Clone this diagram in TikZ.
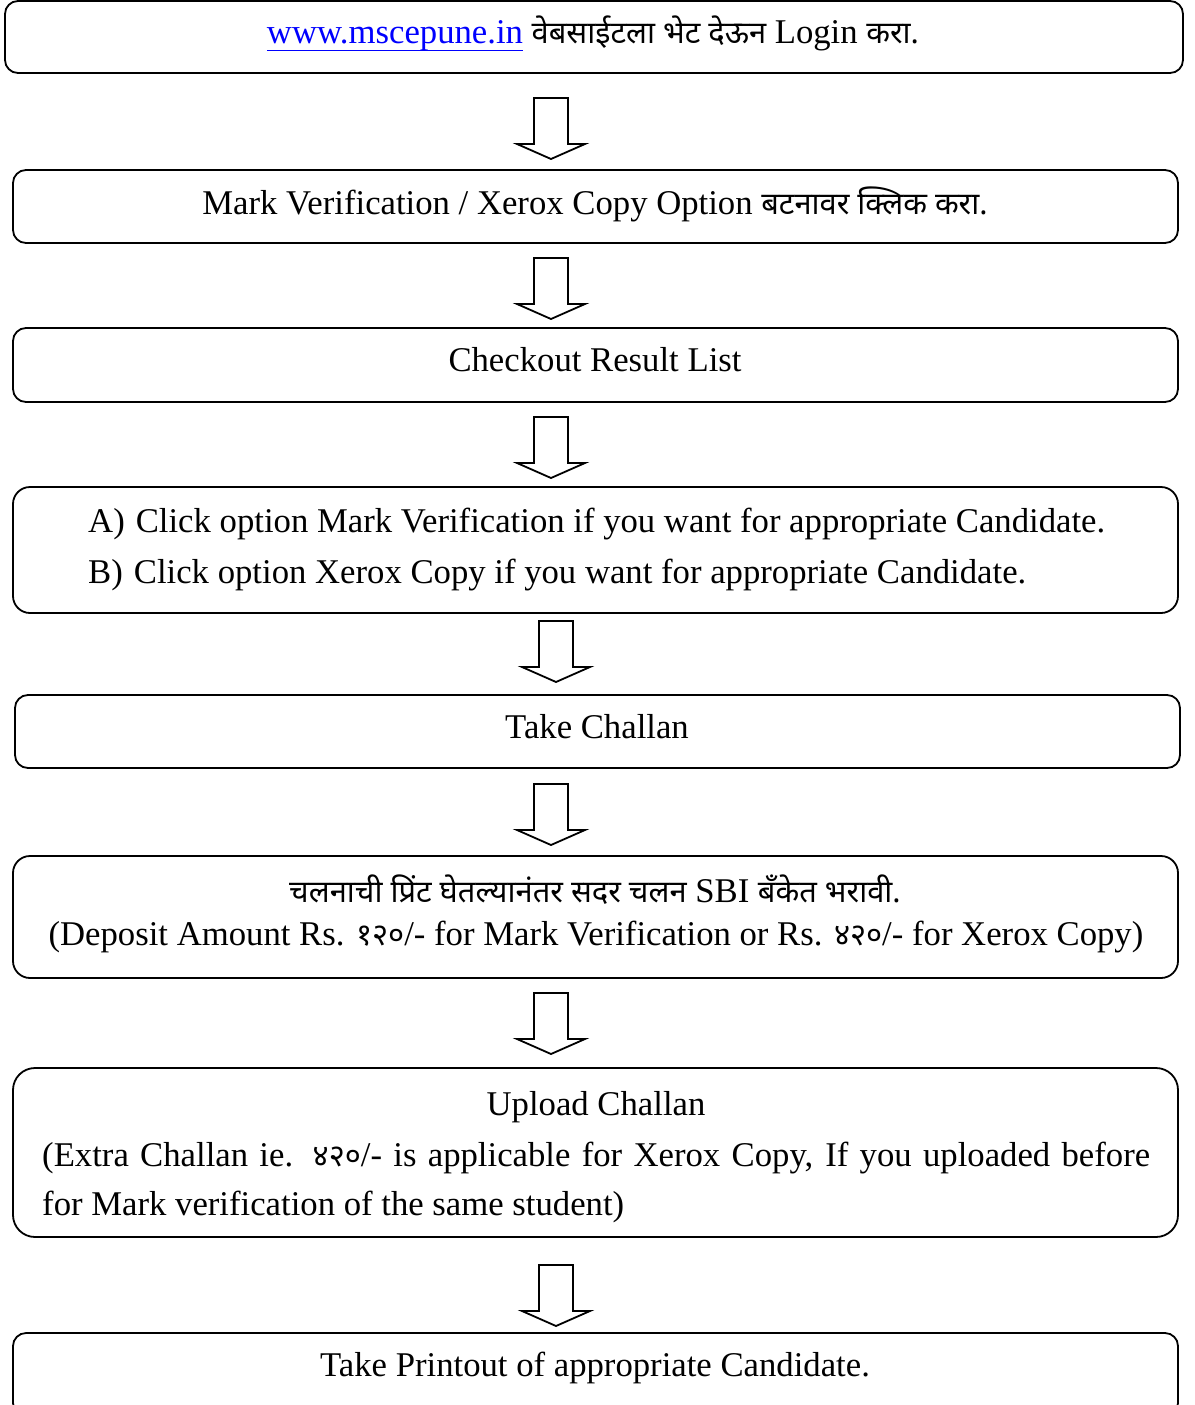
\documentclass[tikz,border=0pt]{standalone}
\usepackage{fontspec}
\setmainfont{Liberation Serif}
\newfontfamily\deva[Script=Devanagari, Scale=0.89]{Noto Sans}
\newcommand\myurl[1]{\sbox0{#1}\rlap{\rule[-7.5pt]{\wd0}{1.8pt}}\usebox0}
\tikzset{
  stepbox/.style={draw=black, line width=1.8pt, fill=white, inner sep=0pt, rectangle},
  txt/.style={inner sep=0pt, font=\fontsize{34.7pt}{41pt}\selectfont, anchor=base},
  txtl/.style={txt, anchor=base west},
  arrowline/.style={draw=black, line width=1.8pt, line join=miter, fill=white},
  barrow/.pic={\draw[arrowline] (-17,0) -- (-17,46) -- (-34,46) -- (0,61) -- (34,46) -- (17,46) -- (17,0) -- cycle;}
}
\begin{document}
\begin{tikzpicture}[x=1pt,y=-1pt]
\clip (0,0) rectangle (1194,1405);
\fill[white] (0,0) rectangle (1194,1405);
% boxes
\node[stepbox, rounded corners=13pt, minimum width=1178pt, minimum height=72pt] (b1) at (594,37) {};
\node[stepbox, rounded corners=13pt, minimum width=1165pt, minimum height=73pt] (b2) at (595.5,206.5) {};
\node[stepbox, rounded corners=13pt, minimum width=1165pt, minimum height=74pt] (b3) at (595.5,365) {};
\node[stepbox, rounded corners=17pt, minimum width=1165pt, minimum height=126pt] (b4) at (595.5,550) {};
\node[stepbox, rounded corners=13pt, minimum width=1165pt, minimum height=73pt] (b5) at (597.5,731.5) {};
\node[stepbox, rounded corners=17pt, minimum width=1165pt, minimum height=122pt] (b6) at (595.5,917) {};
\node[stepbox, rounded corners=22pt, minimum width=1165pt, minimum height=169pt] (b7) at (595.5,1152.5) {};
\node[stepbox, rounded corners=13pt, minimum width=1165pt, minimum height=83pt] (b8) at (595.5,1374.5) {};
% texts
\node[txt] (t1) at (593,44) {\textcolor{blue}{\myurl{www.mscepune.in}} {\deva वेबसाईटला भेट देऊन} Login {\deva करा.}};
\node[txt] (t2) at (595,214) {Mark Verification / Xerox Copy Option {\deva बटनावर क्लिक करा.}};
\node[txt] (t3) at (595,371) {Checkout Result List};
\node[txtl] (t4a) at (88,532) {A)\hspace{11pt}Click option Mark Verification if you want for appropriate Candidate.};
\node[txtl] (t4b) at (88,583) {B)\hspace{11pt}Click option Xerox Copy if you want for appropriate Candidate.};
\node[txt] (t5) at (597,738) {Take Challan};
\node[txt] (t6a) at (595,902) {{\deva चलनाची प्रिंट घेतल्यानंतर सदर चलन} SBI {\deva बँकेत भरावी.}};
\node[txt] (t6b) at (596,945) {(Deposit Amount Rs. {\deva १२०}/- for Mark Verification or Rs. {\deva ४२०}/- for Xerox Copy)};
\node[txt] (t7a) at (596,1115) {Upload Challan};
\node[txtl] (t7b) at (42,1166) {\makebox[1108pt][s]{(Extra Challan ie. {\deva ४२०}/- is applicable for Xerox Copy, If you uploaded before}};
\node[txtl] (t7c) at (42,1215) {for Mark verification of the same student)};
\node[txt] (t8) at (595,1376) {Take Printout of appropriate Candidate.};
% block arrows
\pic (a1) at (551,98) {barrow};
\pic (a2) at (551,258) {barrow};
\pic (a3) at (551,417) {barrow};
\pic (a4) at (556,621) {barrow};
\pic (a5) at (551,784) {barrow};
\pic (a6) at (551,993) {barrow};
\pic (a7) at (556,1265) {barrow};
\end{tikzpicture}
\end{document}
